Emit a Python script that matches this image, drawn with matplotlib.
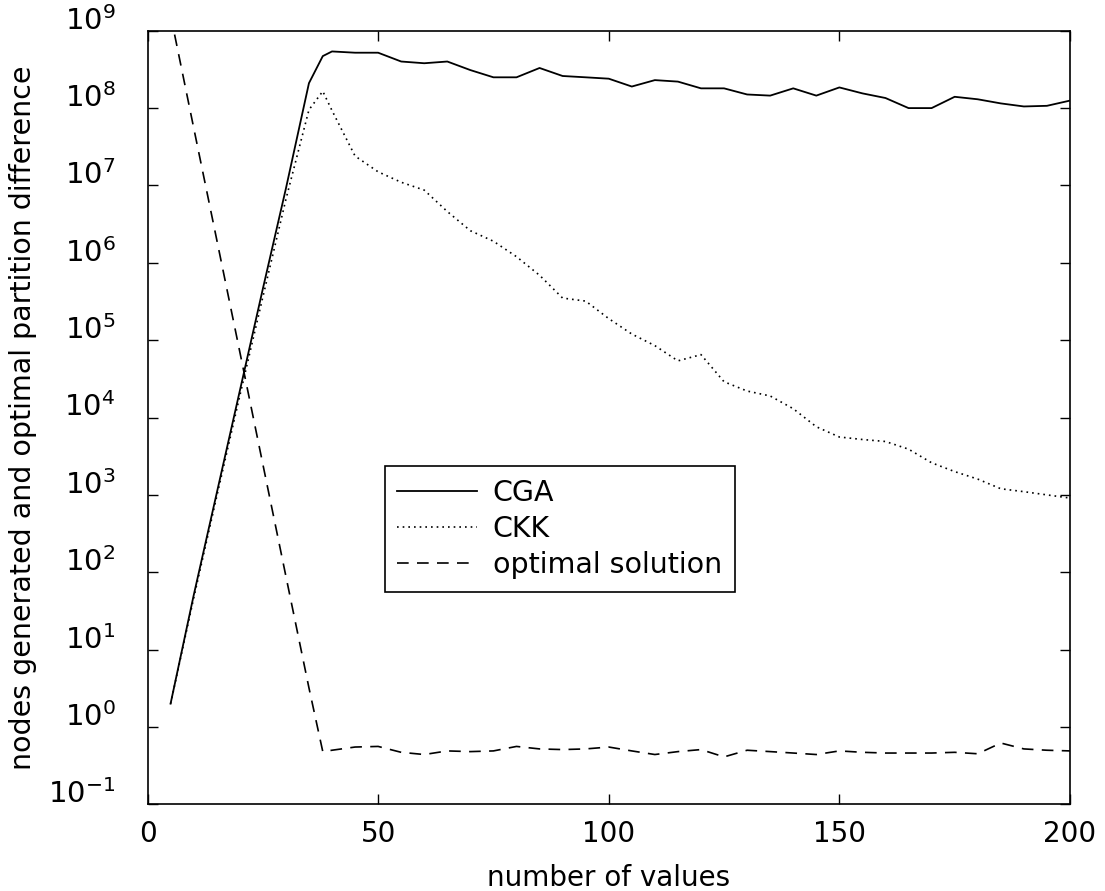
import matplotlib
matplotlib.use("Agg")
import matplotlib.pyplot as plt
import matplotlib.ticker as mticker
import matplotlib.transforms as mtransforms

# ---- data ----
n_values = [5, 10, 15, 20, 25, 30, 35, 38, 40, 45, 50, 55, 60, 65, 70, 75, 80, 85,
            90, 95, 100, 105, 110, 115, 120, 125, 130, 135, 140, 145, 150, 155,
            160, 165, 170, 175, 180, 185, 190, 195, 200]

cga = [2.0, 50, 1.05e3, 2.2e4, 4.6e5, 9.1e6, 2.1e8, 4.7e8,
       5.4e8, 5.2e8, 5.2e8, 4.0e8, 3.8e8, 4.0e8, 3.1e8, 2.5e8, 2.5e8, 3.3e8,
       2.6e8, 2.5e8, 2.4e8, 1.9e8, 2.3e8, 2.2e8, 1.8e8, 1.8e8, 1.5e8, 1.45e8,
       1.8e8, 1.45e8, 1.85e8, 1.55e8, 1.35e8, 1.0e8, 1.0e8, 1.4e8, 1.3e8, 1.15e8,
       1.05e8, 1.07e8, 1.25e8]

ckk = [2.0, 46, 950, 1.9e4, 3.6e5, 6.6e6, 9.5e7, 1.65e8,
       9.3e7, 2.4e7, 1.5e7, 1.1e7, 8.7e6, 4.6e6, 2.6e6, 1.9e6, 1.2e6, 6.9e5,
       3.5e5, 3.2e5, 1.9e5, 1.2e5, 8.5e4, 5.4e4, 6.5e4, 2.9e4, 2.2e4, 1.9e4,
       1.3e4, 7.6e3, 5.6e3, 5.2e3, 4.9e3, 3.9e3, 2.6e3, 2.0e3, 1.6e3, 1.2e3,
       1.1e3, 1.0e3, 9.1e2]

optimal = [1.6e9, 5.6e7, 2.0e6, 7.1e4, 2.5e3, 89, 3.2, 0.48,
           0.50, 0.55, 0.56, 0.47, 0.44, 0.49, 0.48, 0.49, 0.56, 0.52,
           0.51, 0.52, 0.55, 0.49, 0.44, 0.48, 0.51, 0.41, 0.50, 0.48,
           0.46, 0.44, 0.49, 0.47, 0.46, 0.46, 0.46, 0.47, 0.45, 0.62,
           0.52, 0.50, 0.49]

series_labels = ["CGA", "CKK", "optimal solution"]
x_ticks = [0, 50, 100, 150, 200]
x_label = "number of values"
y_label = "nodes generated and optimal partition difference"

# ---- figure ----
plt.rcParams['font.family'] = ['DejaVu Sans']
plt.rcParams['mathtext.fontset'] = 'dejavusans'

fig = plt.figure(figsize=(11.05, 8.91), dpi=100)
ax = fig.add_axes([0.1335, 0.0973, 0.8348, 0.8682])

ax.plot(n_values, cga, color='black', lw=1.3, linestyle='-', label=series_labels[0])
ax.plot(n_values, ckk, color='black', lw=1.2, linestyle=(0, (1, 2.4)), label=series_labels[1])
ax.plot(n_values, optimal, color='black', lw=1.2, linestyle=(0, (7, 5)), label=series_labels[2])

ax.set_yscale('log')
ax.set_xlim(0, 200)
ax.set_ylim(1e-1, 1e9)
ax.set_xticks(x_ticks)
ax.yaxis.set_major_locator(mticker.LogLocator(base=10, numticks=20))
ax.yaxis.set_minor_locator(mticker.NullLocator())
ax.xaxis.set_minor_locator(mticker.NullLocator())

ax.tick_params(axis='both', which='major', direction='in', length=7, width=1.0,
               top=True, right=True, labelsize=20, color='black')
ax.tick_params(axis='x', pad=11)
ax.tick_params(axis='y', pad=23, labelsize=21)
for sp in ax.spines.values():
    sp.set_linewidth(1.2)

ax.set_xlabel(x_label, fontsize=20, labelpad=12)
ax.set_ylabel(y_label, fontsize=20.5, labelpad=8)

# lift y tick labels slightly (as in the original, base sits on the tick)
offset = mtransforms.ScaledTranslation(0, 0.13, fig.dpi_scale_trans)
for lab in ax.get_yticklabels():
    lab.set_transform(lab.get_transform() + offset)

leg = ax.legend(loc='upper left', bbox_to_anchor=(0.257, 0.437), borderaxespad=0,
                fontsize=20.5, frameon=True, fancybox=False, shadow=False,
                handlelength=2.8, handletextpad=0.55, labelspacing=0.28,
                borderpad=0.45, framealpha=1)
leg.get_frame().set_edgecolor('black')
leg.get_frame().set_linewidth(1.2)

fig.savefig("out.png", dpi=100, facecolor='white')
